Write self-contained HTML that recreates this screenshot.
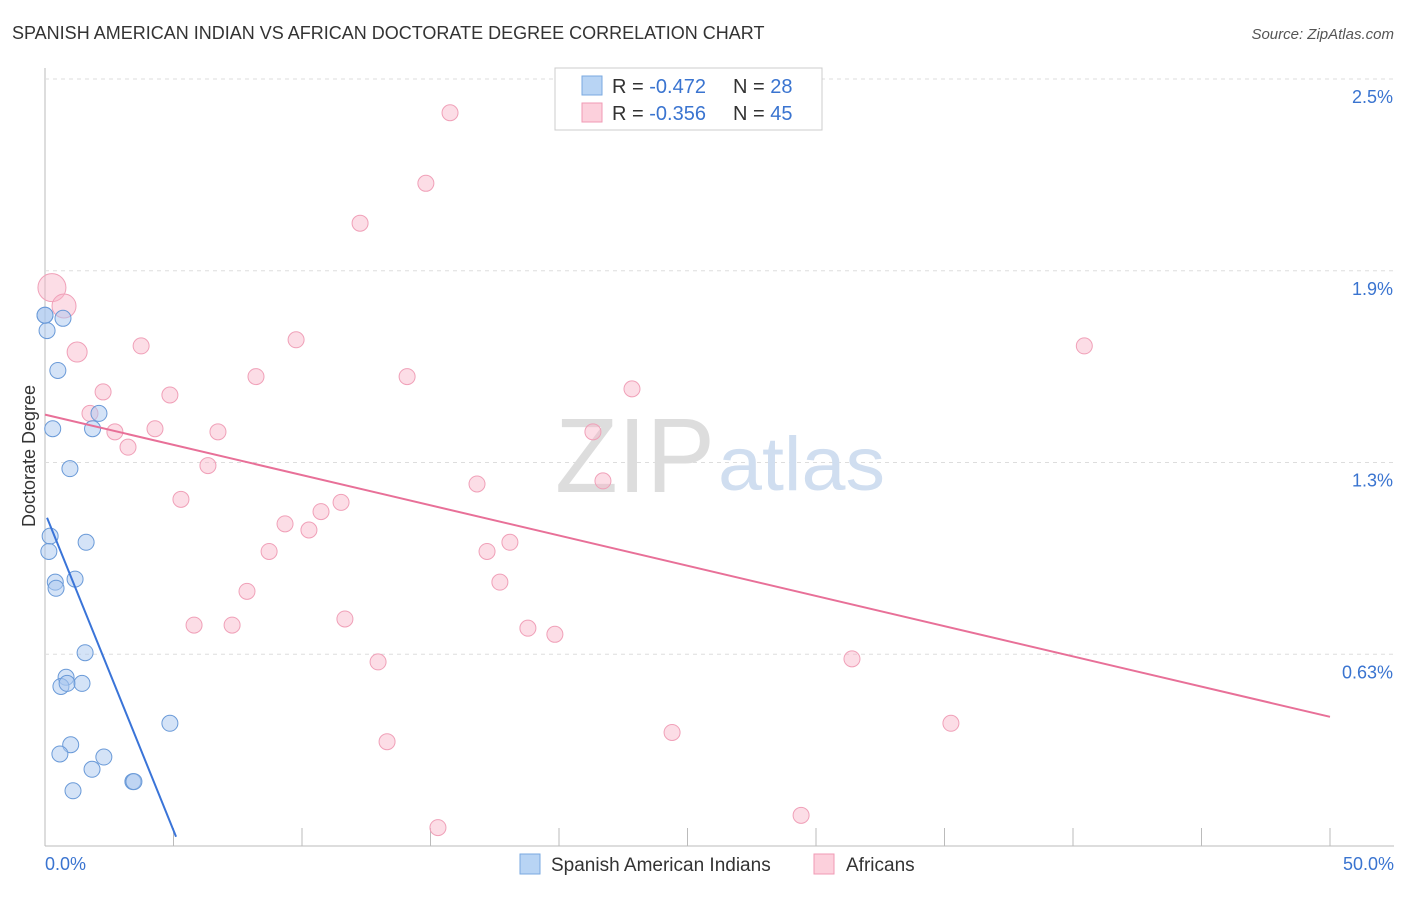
<!DOCTYPE html>
<html><head><meta charset="utf-8">
<style>
body{margin:0;background:#fff;font-family:"Liberation Sans",sans-serif;}
svg text{font-family:"Liberation Sans",sans-serif;}
</style></head>
<body>
<svg id="chart" width="1406" height="892">
<text x="12" y="39" font-size="18" fill="#333">SPANISH AMERICAN INDIAN VS AFRICAN DOCTORATE DEGREE CORRELATION CHART</text>
<text x="1394" y="39" font-size="15" fill="#555" font-style="italic" text-anchor="end">Source: ZipAtlas.com</text>
<text x="35" y="456" font-size="18" fill="#333" transform="rotate(-90 35 456)" text-anchor="middle">Doctorate Degree</text>
<g id="grid"></g>
<text x="715" y="492" font-size="106" fill="#ddd" font-family="Liberation Serif" text-anchor="end" textLength="160" lengthAdjust="spacingAndGlyphs">ZIP</text>
<text x="718" y="490" font-size="76" fill="#d0def0" textLength="167" lengthAdjust="spacingAndGlyphs">atlas</text>
<g id="marks"></g>
<g>
<rect x="555" y="68" width="267" height="62" fill="#fff" stroke="#ccc"/>
<rect x="582" y="76" width="20" height="19" fill="#b8d4f4" stroke="#7aa9e0"/>
<rect x="582" y="103" width="20" height="19" fill="#fcd0dc" stroke="#f09ab4"/>
<text x="612" y="93" font-size="20" fill="#333">R = <tspan fill="#3a74d0">-0.472</tspan></text>
<text x="733" y="93" font-size="20" fill="#333">N = <tspan fill="#3a74d0">28</tspan></text>
<text x="612" y="120" font-size="20" fill="#333">R = <tspan fill="#3a74d0">-0.356</tspan></text>
<text x="733" y="120" font-size="20" fill="#333">N = <tspan fill="#3a74d0">45</tspan></text>
</g>
<g>
<rect x="520" y="854" width="20" height="20" fill="#b8d4f4" stroke="#7aa9e0"/>
<text x="551" y="871" font-size="19" fill="#333">Spanish American Indians</text>
<rect x="814" y="854" width="20" height="20" fill="#fcd0dc" stroke="#f09ab4"/>
<text x="846" y="871" font-size="19" fill="#333">Africans</text>
</g>
</svg>
<script>
const yTicks=[0.625,1.25,1.875,2.5];
const yTickLabels=["0.63%","1.3%","1.9%","2.5%"];
const xTickLabels=["0.0%","50.0%"];
const blueX=[0,0.08,0.7,0.5,0.3,2.1,1.85,0.97,0.2,0.15,1.6,0.4,0.43,1.17,1.56,0.82,0.62,0.86,1.44,4.86,1.0,0.58,2.29,1.83,3.42,3.46,1.09,0.0];
const blueY=[1.73,1.68,1.72,1.55,1.36,1.41,1.36,1.23,1.01,0.96,0.99,0.86,0.84,0.87,0.63,0.55,0.52,0.53,0.53,0.40,0.33,0.30,0.29,0.25,0.21,0.21,0.18,1.73];
const pinkX=[0.27,0.74,1.25,15.76,14.82,12.26,9.77,3.74,40.44,8.21,14.09,2.26,22.84,4.86,1.75,2.72,4.28,6.73,21.32,3.23,6.34,16.81,21.71,5.29,11.52,10.74,9.34,10.27,18.09,17.2,8.72,17.7,7.86,11.67,5.8,7.28,18.79,19.84,12.96,31.4,35.25,24.4,13.31,15.29,29.42];
const pinkY=[1.82,1.76,1.61,2.39,2.16,2.03,1.65,1.63,1.63,1.53,1.53,1.48,1.49,1.47,1.41,1.35,1.36,1.35,1.35,1.30,1.24,1.18,1.19,1.13,1.12,1.09,1.05,1.03,0.99,0.96,0.96,0.86,0.83,0.74,0.72,0.72,0.71,0.69,0.60,0.61,0.40,0.37,0.34,0.06,0.10];
const pinkR=[14,12,10,8,8,8,8,8,8,8,8,8,8,8,8,8,8,8,8,8,8,8,8,8,8,8,8,8,8,8,8,8,8,8,8,8,8,8,8,8,8,8,8,8,8];
const blueLine=[[0.08,1.07],[5.1,0.03]];
const pinkLine=[[0,1.406],[50,0.421]];
const X=v=>45+v/50*1285, Y=v=>846-v/2.5*767;
const NS="http://www.w3.org/2000/svg";
const grid=document.getElementById('grid'),marks=document.getElementById('marks');
function mk(tag,at,par){const e=document.createElementNS(NS,tag);for(const k in at)e.setAttribute(k,at[k]);par.appendChild(e);return e;}
const ax=mk('line',{x1:45,y1:68,x2:45,y2:846,stroke:'#bbb'},grid);


const bx=mk('line',{x1:45,y1:846,x2:1394,y2:846,stroke:'#bbb'},grid);


yTicks.forEach((t,i)=>{
 const g=mk('line',{x1:45,y1:Y(t),x2:1394,y2:Y(t),stroke:'#ddd','stroke-dasharray':'4,4'},grid);
 
 
 const tx=mk('text',{x:1393,y:Y(t)+24,'font-size':18,fill:'#3a74d0','text-anchor':'end'},grid);
 tx.textContent=yTickLabels[i];
 
 
});
for(let i=1;i<=10;i++){const x=45+i*128.5;
 const t=mk('line',{x1:x,y1:828,x2:x,y2:846,stroke:'#bbb'},grid);
 
 }
[[0,45,'start'],[1,1394,'end']].forEach(([i,x,a])=>{const t=mk('text',{x:x,y:870,'font-size':18,fill:'#3a74d0','text-anchor':a},grid);t.textContent=xTickLabels[i];
 
 });
pinkX.forEach((v,i)=>{const c=mk('circle',{cx:X(v),cy:Y(pinkY[i]),r:pinkR[i],fill:'rgba(248,180,200,0.45)',stroke:'#f0a0b8','stroke-width':1},marks);
 
 });
blueX.forEach((v,i)=>{const c=mk('circle',{cx:X(v),cy:Y(blueY[i]),r:8,fill:'rgba(170,200,240,0.5)',stroke:'#6a9ad8','stroke-width':1},marks);
 
 });
const pl=mk('line',{x1:X(pinkLine[0][0]),y1:Y(pinkLine[0][1]),x2:X(pinkLine[1][0]),y2:Y(pinkLine[1][1]),stroke:'#e87098','stroke-width':2},marks);


const bl=mk('line',{x1:X(blueLine[0][0]),y1:Y(blueLine[0][1]),x2:X(blueLine[1][0]),y2:Y(blueLine[1][1]),stroke:'#3a74d8','stroke-width':2},marks);


</script>
</body></html>
